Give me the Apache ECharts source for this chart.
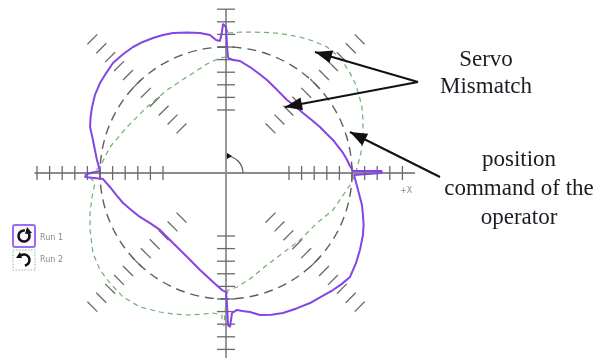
<!DOCTYPE html>
<html>
<head>
<meta charset="utf-8">
<script src="https://cdn.jsdelivr.net/npm/echarts@6/dist/echarts.min.js"></script>
<style>
  html, body { margin: 0; padding: 0; background: #fff; }
  #chart { width: 596px; height: 358px; }
</style>
</head>
<body>
<div id="chart"></div>
<script>
// Ballbar-style circular test: two measured runs against the commanded circle.
// Units: one axis tick = 1 unit; commanded radius = 10 units.

const commandRadius = 10;

// Axis tick positions (units)
const xTickValues = [-15, -14, -13, -12, -11, -10, -9, -8, -7, -6, -5, 5, 6, 7, 8, 9, 10, 11, 12, 13, 14];
const yTickValues = [5, 6, 7, 8, 9, 10, 11, 12, 13, -5, -6, -7, -8, -9, -10, -11, -12, -13, -14];
const diagTickRadii = [5, 6, 7, 8, 9, 10, 11, 12, 13, 14, 15];
const diagAnglesDeg = [45, 135, 225, 315];
const xAxisExtent = [-15.2, 15];
const yAxisExtent = [-15, 13];

// Run 1 (solid purple trace), [x, y] in units
const run1 = [
  [0.16, 9.13], [0.56, 8.97], [1.11, 8.89], [1.90, 8.41], [2.60, 7.90], [3.25, 7.38], [4.05, 6.60],
  [4.84, 5.79], [5.50, 5.30], [6.11, 4.76], [6.80, 4.20], [7.46, 3.65], [8.00, 3.10], [8.49, 2.62],
  [8.90, 2.10], [9.29, 1.59], [9.60, 1.05], [9.84, 0.56], [10.08, 0.16],
  [12.38, 0.16], [12.30, 0.00], [10.16, -0.16],
  [10.48, -1.35], [10.79, -2.54], [10.87, -3.33], [10.92, -4.10], [10.87, -4.92], [10.63, -6.11],
  [10.30, -7.20], [9.84, -8.25], [9.20, -8.80], [8.49, -9.29], [7.60, -9.80], [6.67, -10.32],
  [5.60, -10.75], [4.52, -11.11], [3.60, -11.25], [2.70, -11.27], [1.90, -11.03], [1.30, -10.95],
  [0.87, -10.87], [0.48, -11.11],
  [0.32, -12.22], [0.16, -12.06], [0.08, -10.48], [0.00, -9.44],
  [-0.32, -9.29], [-1.20, -8.50], [-2.06, -7.70], [-3.10, -6.65], [-4.21, -5.56], [-5.24, -4.52],
  [-6.00, -4.00], [-6.83, -3.49], [-7.50, -2.95], [-8.17, -2.38], [-8.70, -1.75], [-9.21, -1.11],
  [-9.76, -0.48],
  [-11.19, -0.32], [-11.10, -0.08], [-10.00, 0.16],
  [-10.24, 1.03], [-10.40, 1.80], [-10.56, 2.62], [-10.79, 3.65], [-10.75, 4.40], [-10.63, 5.24],
  [-10.40, 6.20], [-10.00, 7.14], [-9.50, 7.95], [-8.97, 8.73], [-8.20, 9.40], [-7.38, 10.00],
  [-6.60, 10.40], [-5.79, 10.71], [-5.00, 10.95], [-4.21, 11.11], [-3.10, 11.15], [-2.06, 11.11],
  [-1.27, 10.95], [-0.79, 10.56], [-0.48, 10.48], [-0.32, 11.19], [-0.24, 11.83], [0.00, 11.59],
  [0.08, 10.16], [0.16, 9.13]
];

// Run 2 (dashed green trace), [x, y] in units
const run2 = [
  [0.16, 11.11], [1.00, 11.17], [1.90, 11.19], [2.90, 11.16], [3.89, 11.11], [4.90, 10.97],
  [5.87, 10.79], [7.00, 10.45], [8.02, 10.00], [8.70, 9.45], [9.29, 8.81], [9.80, 8.00],
  [10.24, 7.14], [10.55, 6.20], [10.79, 5.24], [10.87, 4.20], [10.87, 3.17], [10.80, 2.35],
  [10.71, 1.59], [10.40, 0.40], [10.24, -0.16], [9.84, -0.95],
  [9.20, -1.90], [8.49, -2.94], [7.22, -3.97], [5.87, -5.32], [4.52, -6.35], [3.25, -7.30],
  [1.90, -8.41], [0.87, -9.05], [0.16, -9.29],
  [0.00, -10.08], [-0.16, -12.14], [-0.32, -11.90], [-0.32, -11.27],
  [-1.03, -11.11], [-2.00, -11.22], [-3.10, -11.27], [-4.20, -11.18], [-5.24, -11.03],
  [-6.83, -10.63], [-8.17, -9.84], [-9.21, -8.73], [-10.00, -7.70], [-10.56, -6.35],
  [-10.79, -4.52], [-10.79, -3.17], [-10.63, -1.90], [-10.40, -0.79],
  [-10.95, -0.16], [-10.40, 0.20], [-10.00, 0.48],
  [-9.21, 2.06], [-7.86, 3.65], [-6.27, 5.24], [-4.68, 6.59], [-3.10, 7.62], [-1.51, 8.65],
  [-0.48, 9.13], [0.00, 9.21],
  [0.00, 11.60], [0.16, 11.11]
];

const legendLabels = ['Run 1', 'Run 2'];
const noteServo = ['Servo', 'Mismatch'];
const noteCommand = ['position', 'command of the', 'operator'];
const axisName = '+X';

const AXIS_GRAY = '#8c8c8c';
const TICK_GRAY = '#6a6a6a';

const chart = echarts.init(document.getElementById('chart'), null, { renderer: 'canvas' });

function tickSeries(data, dx, dy) {
  return {
    type: 'custom',
    silent: true,
    z: 2,
    data: data,
    renderItem: function (params, api) {
      const p = api.coord([api.value(0), api.value(1)]);
      return {
        type: 'line',
        shape: { x1: p[0] - dx, y1: p[1] - dy, x2: p[0] + dx, y2: p[1] + dy },
        style: { stroke: TICK_GRAY, lineWidth: 1.3 }
      };
    }
  };
}

const diagTicks = [];
diagAnglesDeg.forEach(function (a) {
  diagTickRadii.forEach(function (r) {
    diagTicks.push([r * Math.cos(a * Math.PI / 180), r * Math.sin(a * Math.PI / 180), a]);
  });
});

function arrowHead(tip, from, len, half) {
  const dx = tip[0] - from[0], dy = tip[1] - from[1];
  const d = Math.sqrt(dx * dx + dy * dy);
  const ux = dx / d, uy = dy / d;
  const bx = tip[0] - ux * len, by = tip[1] - uy * len;
  return [[tip[0], tip[1]], [bx - uy * half, by + ux * half], [bx + uy * half, by - ux * half]];
}

const arrows = [
  { from: [418, 82], tip: [315, 52] },
  { from: [418, 82], tip: [285, 107] },
  { from: [440, 177], tip: [350, 132] }
];

const graphics = [];
arrows.forEach(function (a) {
  graphics.push({ type: 'line', z: 10, shape: { x1: a.from[0], y1: a.from[1], x2: a.tip[0], y2: a.tip[1] },
    style: { stroke: '#111', lineWidth: 2 } });
  graphics.push({ type: 'polygon', z: 10, shape: { points: arrowHead(a.tip, a.from, 17, 6.5) },
    style: { fill: '#111' } });
});

const serifFont = '23px "Liberation Serif", "DejaVu Serif", serif';
noteServo.forEach(function (t, i) {
  graphics.push({ type: 'text', z: 10, style: { text: t, x: 486, y: 60 + i * 27, font: serifFont, fill: '#1c1c24',
    align: 'center', textAlign: 'center', verticalAlign: 'middle', textVerticalAlign: 'middle' } });
});
noteCommand.forEach(function (t, i) {
  graphics.push({ type: 'text', z: 10, style: { text: t, x: 519, y: 160 + i * 29, font: serifFont, fill: '#1c1c24',
    align: 'center', textAlign: 'center', verticalAlign: 'middle', textVerticalAlign: 'middle' } });
});

// legend boxes with circular-arrow icons
graphics.push({ type: 'rect', z: 10, shape: { x: 13, y: 225, width: 22, height: 22, r: 2 },
  style: { fill: '#faf7ff', stroke: '#9a6cf0', lineWidth: 2 } });
graphics.push({ type: 'arc', z: 11, shape: { cx: 24, cy: 236, r: 5.5, startAngle: -Math.PI * 0.3, endAngle: Math.PI * 1.55, clockwise: true },
  style: { stroke: '#111', lineWidth: 2.6, fill: null } });
graphics.push({ type: 'polygon', z: 11, shape: { points: [[27, 227], [32, 233], [25, 234]] }, style: { fill: '#111' } });
graphics.push({ type: 'rect', z: 10, shape: { x: 13, y: 250, width: 22, height: 20 },
  style: { fill: '#fff', stroke: '#8cc08c', lineWidth: 1, lineDash: [1.5, 1.5] } });
graphics.push({ type: 'arc', z: 11, shape: { cx: 24, cy: 260, r: 5.5, startAngle: Math.PI * 1.3, endAngle: Math.PI * 0.45, clockwise: true },
  style: { stroke: '#111', lineWidth: 2.6, fill: null } });
graphics.push({ type: 'polygon', z: 11, shape: { points: [[20, 252], [16, 258], [22, 258]] }, style: { fill: '#111' } });
legendLabels.forEach(function (t, i) {
  graphics.push({ type: 'text', z: 10, style: { text: t, x: 40, y: 238 + i * 22, font: '8px "DejaVu Sans", sans-serif',
    fill: '#8a8a8a', verticalAlign: 'middle', textVerticalAlign: 'middle' } });
});
graphics.push({ type: 'text', z: 10, style: { text: axisName, x: 400, y: 191, font: '8px "DejaVu Sans", sans-serif',
  fill: '#8a8a8a', verticalAlign: 'middle', textVerticalAlign: 'middle' } });

chart.setOption({
  animation: false,
  backgroundColor: '#ffffff',
  grid: { left: 0, right: 0, top: 0, bottom: 0 },
  xAxis: { type: 'value', min: -17.937, max: 29.365, show: false },
  yAxis: { type: 'value', min: -14.683, max: 13.730, show: false },
  graphic: { elements: graphics },
  series: [
    // axis lines
    { type: 'line', silent: true, z: 1, symbol: 'none', data: [[xAxisExtent[0], 0], [xAxisExtent[1], 0]],
      lineStyle: { color: AXIS_GRAY, width: 1.8 } },
    { type: 'line', silent: true, z: 1, symbol: 'none', data: [[0, yAxisExtent[0]], [0, yAxisExtent[1]]],
      lineStyle: { color: AXIS_GRAY, width: 1.8 } },
    tickSeries(xTickValues.map(function (v) { return [v, 0]; }), 0, 7),
    tickSeries(yTickValues.map(function (v) { return [0, v]; }), 9, 0),
    // diagonal ticks, perpendicular to each 45-degree ray
    {
      type: 'custom', silent: true, z: 2, data: diagTicks,
      renderItem: function (params, api) {
        const p = api.coord([api.value(0), api.value(1)]);
        const a = api.value(2) * Math.PI / 180;
        const h = 7;
        // perpendicular direction in screen space
        const px = Math.sin(a) * h, py = Math.cos(a) * h;
        return { type: 'line', shape: { x1: p[0] - px, y1: p[1] - py, x2: p[0] + px, y2: p[1] + py },
          style: { stroke: TICK_GRAY, lineWidth: 1.3 } };
      }
    },
    // angle arc at the origin
    {
      type: 'custom', silent: true, z: 3, data: [[0, 0, 1.35]],
      renderItem: function (params, api) {
        const c = api.coord([api.value(0), api.value(1)]);
        const r = api.size([api.value(2), 0])[0];
        return { type: 'group', children: [
          { type: 'arc', shape: { cx: c[0], cy: c[1], r: r, startAngle: -Math.PI / 2, endAngle: 0, clockwise: true },
            style: { stroke: '#555', lineWidth: 1.2, fill: null } },
          { type: 'polygon', shape: { points: [[c[0] + 1, c[1] - r - 3], [c[0] + 6, c[1] - r], [c[0] + 1, c[1] - r + 3]] },
            style: { fill: '#111' } }
        ] };
      }
    },
    // commanded circle
    {
      type: 'custom', silent: true, z: 4, data: [[0, 0, commandRadius]],
      renderItem: function (params, api) {
        const c = api.coord([api.value(0), api.value(1)]);
        const r = api.size([api.value(2), 0])[0];
        return { type: 'circle', shape: { cx: c[0], cy: c[1], r: r },
          style: { fill: null, stroke: '#5e5e5e', lineWidth: 1.4, lineDash: [9, 6] } };
      }
    },
    { name: 'Run 2', type: 'line', z: 5, symbol: 'none', data: run2,
      lineStyle: { color: '#6fae6f', width: 1.2, type: [5, 4] } },
    { name: 'Run 1', type: 'line', z: 6, symbol: 'none', data: run1,
      lineStyle: { color: '#8444e6', width: 2 } }
  ]
});
</script>
</body>
</html>
